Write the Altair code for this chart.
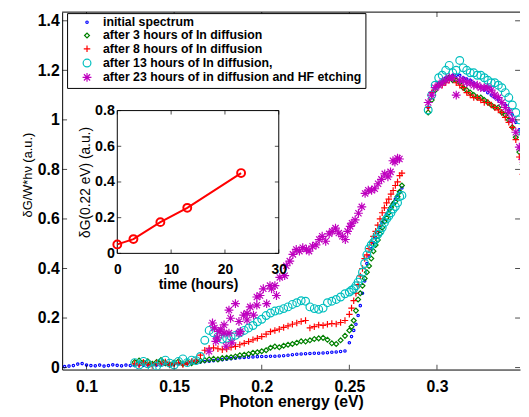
import altair as alt
import pandas as pd

FONT = "Liberation Sans"

SERIES = [
    "initial spectrum",
    "after 3 hours of In diffusion",
    "after 8 hours of In diffusion",
    "after 13 hours of In diffusion,",
    "after 23 hours of in diffusion and HF etching",
]
COLORS = ["#0000FF", "#008000", "#FF0000", "#00BFBF", "#BF00BF"]
PLUS = "M-1,0L1,0M0,-1L0,1"
STAR = "M-1,0L1,0M0,-1L0,1M-0.7,-0.7L0.7,0.7M-0.7,0.7L0.7,-0.7"
SHAPES = ["circle", "diamond", PLUS, "circle", STAR]
SIZES = [6, 81, 64, 110, 64]

# photon energies (eV)
X_PRE = [0.0875, 0.0900, 0.0925, 0.0950, 0.0975, 0.1000, 0.1025, 0.1050,
         0.1075, 0.1100, 0.1125, 0.1150, 0.1175, 0.1200, 0.1225, 0.1250]
X_LOW = [0.1275, 0.1300, 0.1325, 0.1350, 0.1375, 0.1400, 0.1425, 0.1450, 0.1475, 0.1500,
         0.1525, 0.1550, 0.1575, 0.1600, 0.1625, 0.1650, 0.1675, 0.1700, 0.1725, 0.1750,
         0.1775, 0.1800, 0.1825, 0.1850, 0.1875, 0.1900, 0.1925, 0.1950, 0.1975, 0.2000,
         0.2025, 0.2050, 0.2075, 0.2100, 0.2125, 0.2150, 0.2175, 0.2200, 0.2225, 0.2250,
         0.2275, 0.2300, 0.2325, 0.2350, 0.2375, 0.2400, 0.2425, 0.2450, 0.2475]
X_RISE = [0.25000, 0.25125, 0.25250, 0.25375, 0.25500, 0.25625, 0.25750, 0.25875,
          0.26000, 0.26125, 0.26250, 0.26375, 0.26500, 0.26625, 0.26750, 0.26875,
          0.27000, 0.27125, 0.27250, 0.27375, 0.27500, 0.27625, 0.27750, 0.27875, 0.28000]
X_PEAK = [0.295, 0.297, 0.299, 0.301, 0.303, 0.305, 0.307, 0.309, 0.311, 0.313,
          0.315, 0.317, 0.319, 0.321, 0.323, 0.325, 0.327, 0.329, 0.331, 0.333,
          0.335, 0.337, 0.339, 0.341, 0.343, 0.345, 0.347, 0.349]

# initial spectrum
BLUE_PRE = [0.004, 0.006, 0.008, 0.014, 0.016, 0.010, 0.008, 0.007,
            0.010, 0.006, 0.008, 0.011, 0.009, 0.007, 0.010, 0.008]
BLUE_LOW = [0.008, 0.010, 0.009, 0.011, 0.012, 0.010, 0.012, 0.013, 0.012, 0.014,
            0.015, 0.014, 0.016, 0.018, 0.020, 0.022, 0.024, 0.026, 0.028, 0.030,
            0.032, 0.034, 0.036, 0.038, 0.040, 0.041, 0.042, 0.043, 0.044, 0.045,
            0.045, 0.046, 0.046, 0.047, 0.048, 0.050, 0.052, 0.054, 0.055, 0.056,
            0.057, 0.058, 0.058, 0.059, 0.060, 0.062, 0.063, 0.065, 0.067]
BLUE_RISE = [0.100, 0.125, 0.150, 0.175, 0.210, 0.250, 0.300, 0.350, 0.420, 0.450,
             0.480, 0.505, 0.525, 0.545, 0.565, 0.585, 0.600, 0.620, 0.635, 0.650,
             0.665, 0.680, 0.695, 0.710, 0.725]
BLUE_PEAK = [1.05, 1.10, 1.13, 1.15, 1.16, 1.17, 1.175, 1.18, 1.18, 1.18,
             1.17, 1.165, 1.16, 1.15, 1.14, 1.13, 1.12, 1.11, 1.10, 1.09,
             1.08, 1.07, 1.06, 1.04, 1.02, 0.99, 0.96, 0.92]

# after 3 hours
GREEN_LOW = [0.022, 0.028, 0.020, 0.025, 0.015, 0.022, 0.030, 0.018, 0.012, 0.020,
             0.025, 0.015, 0.022, 0.018, 0.025, 0.028, 0.030, 0.033, 0.035, 0.033,
             0.038, 0.040, 0.042, 0.045, 0.050, 0.052, 0.055, 0.060, 0.062, 0.066,
             0.070, 0.080, 0.085, 0.082, 0.088, 0.092, 0.095, 0.100, 0.106, 0.105,
             0.110, 0.115, 0.118, 0.120, 0.112, 0.098, 0.095, 0.110, 0.128]
GREEN_RISE = [0.150, 0.165, 0.190, 0.230, 0.275, 0.300, 0.330, 0.360, 0.385, 0.410,
              0.440, 0.470, 0.495, 0.515, 0.540, 0.565, 0.590, 0.605, 0.625, 0.645,
              0.660, 0.670, 0.690, 0.710, 0.735]
GREEN_PEAK = [1.03, 1.08, 1.12, 1.14, 1.15, 1.16, 1.17, 1.16, 1.16, 1.15,
              1.13, 1.12, 1.11, 1.10, 1.09, 1.09, 1.08, 1.07, 1.06, 1.05,
              1.05, 1.03, 1.02, 1.00, 0.97, 0.93, 0.87, 0.82]

# after 8 hours
RED_LOW = [0.015, 0.010, 0.020, 0.012, 0.008, 0.018, 0.015, 0.022, 0.010, 0.015,
           0.020, 0.012, 0.018, 0.025, 0.030, 0.050, 0.070, 0.078, 0.080, 0.076,
           0.072, 0.075, 0.082, 0.085, 0.092, 0.098, 0.105, 0.112, 0.118, 0.125,
           0.135, 0.145, 0.150, 0.155, 0.162, 0.168, 0.175, 0.180, 0.186, 0.190,
           0.160, 0.165, 0.172, 0.170, 0.175, 0.178, 0.176, 0.182, 0.190]
RED_RISE = [0.215, 0.240, 0.270, 0.300, 0.335, 0.370, 0.400, 0.440, 0.455, 0.480,
            0.505, 0.530, 0.550, 0.575, 0.600, 0.625, 0.645, 0.665, 0.680, 0.700,
            0.715, 0.735, 0.750, 0.775, 0.785]
RED_PEAK = [1.05, 1.11, 1.13, 1.14, 1.14, 1.15, 1.16, 1.17, 1.15, 1.14,
            1.13, 1.11, 1.10, 1.09, 1.09, 1.08, 1.07, 1.07, 1.06, 1.05,
            1.04, 1.03, 1.01, 0.99, 0.97, 0.92, 0.85, 0.78]

# after 13 hours
CYAN_LOW = [0.020, 0.010, 0.025, 0.015, -0.005, 0.005, 0.020, 0.030, 0.018, 0.010,
            0.025, 0.035, 0.020, 0.030, 0.028, 0.045, 0.110, 0.150, 0.140, 0.125,
            0.115, 0.118, 0.125, 0.130, 0.140, 0.150, 0.160, 0.170, 0.185, 0.195,
            0.210, 0.220, 0.228, 0.232, 0.238, 0.245, 0.255, 0.262, 0.270, 0.268,
            0.245, 0.238, 0.235, 0.240, 0.262, 0.268, 0.275, 0.285, 0.298]
CYAN_RISE = [0.305, 0.312, 0.318, 0.330, 0.345, 0.360, 0.385, 0.420, 0.455, 0.480,
             0.495, 0.505, 0.520, 0.538, 0.550, 0.565, 0.585, 0.600, 0.612, 0.625,
             0.640, 0.650, 0.665, 0.690, 0.695]
CYAN_PEAK = [1.04, 1.10, 1.14, 1.17, 1.18, 1.20, 1.22, 1.19, 1.20, 1.24,
             1.21, 1.20, 1.19, 1.19, 1.18, 1.18, 1.17, 1.16, 1.15, 1.15,
             1.14, 1.13, 1.11, 1.09, 1.06, 1.03, 1.00, 0.95]

# after 23 hours + HF etching
MAG_X = [0.1699, 0.1719, 0.1730, 0.1738, 0.1747, 0.1757, 0.1766, 0.1785, 0.1785, 0.1796,
         0.1813, 0.1813, 0.1822, 0.1830, 0.1850, 0.1870, 0.1870, 0.1878, 0.1897, 0.1916,
         0.1916, 0.1934, 0.1953, 0.1972, 0.1972, 0.1990, 0.2009, 0.2028, 0.2047, 0.2056,
         0.2075, 0.2084, 0.2103, 0.2131, 0.2140, 0.2160, 0.2178, 0.2197, 0.2215, 0.2234,
         0.2255, 0.2270, 0.2290, 0.2310, 0.2328, 0.2345, 0.2365, 0.2385, 0.2402, 0.2421,
         0.2440, 0.2460, 0.2477, 0.2490, 0.2505, 0.2515, 0.2533, 0.2552, 0.2571, 0.2590,
         0.2608, 0.2627, 0.2645, 0.2664, 0.2683, 0.2702, 0.2720, 0.2735, 0.2749, 0.2760,
         0.2775, 0.2786]
MAG_Y = [0.066, 0.180, 0.160, 0.106, 0.120, 0.146, 0.152, 0.139, 0.172, 0.086,
         0.232, 0.139, 0.199, 0.100, 0.258, 0.186, 0.139, 0.146, 0.212, 0.192,
         0.219, 0.245, 0.212, 0.252, 0.285, 0.291, 0.318, 0.258, 0.331, 0.318,
         0.331, 0.291, 0.364, 0.371, 0.411, 0.430, 0.457, 0.477, 0.470, 0.484,
         0.478, 0.470, 0.490, 0.495, 0.517, 0.530, 0.510, 0.540, 0.550, 0.563,
         0.543, 0.530, 0.517, 0.550, 0.570, 0.583, 0.596, 0.623, 0.649, 0.703,
         0.716, 0.716, 0.722, 0.742, 0.760, 0.782, 0.770, 0.790, 0.835, 0.830,
         0.845, 0.842]
MAG_PEAK = [1.07, 1.10, 1.13, 1.14, 1.15, 1.16, 1.17, 1.17, 1.10, 1.16,
            1.16, 1.15, 1.15, 1.14, 1.14, 1.13, 1.13, 1.13, 1.12, 1.10,
            1.09, 1.07, 1.05, 1.03, 1.00, 0.95, 0.89, 0.84]

# inset
INSET_T = [0, 3, 8, 13, 23]
INSET_G = [0.05, 0.08, 0.175, 0.255, 0.45]

X_DOMAIN = [0.0861, 0.3474]
Y_DOMAIN = [-0.008, 1.435]
X_TICKS = [0.1, 0.15, 0.2, 0.25, 0.3]
Y_TICKS = [0, 0.2, 0.4, 0.6, 0.8, 1.0, 1.2, 1.4]
INSET_X_DOMAIN = [0, 30]
INSET_Y_DOMAIN = [0, 0.8]
INSET_X_TICKS = [0, 10, 20, 30]
INSET_Y_TICKS = [0, 0.2, 0.4, 0.6, 0.8]

W, H = 465, 363
INSET_X_RANGE = [56, 220]
INSET_Y_RANGE = [245, 100]

rows = []


def add(name, xs, ys):
    assert len(xs) == len(ys), name
    for x, y in zip(xs, ys):
        rows.append({"series": name, "E": x, "G": y})


add(SERIES[0], X_PRE + X_LOW + X_RISE + X_PEAK, BLUE_PRE + BLUE_LOW + BLUE_RISE + BLUE_PEAK)
add(SERIES[1], X_LOW + X_RISE + X_PEAK, GREEN_LOW + GREEN_RISE + GREEN_PEAK)
add(SERIES[2], X_LOW + X_RISE + X_PEAK, RED_LOW + RED_RISE + RED_PEAK)
add(SERIES[3], X_LOW + X_RISE + X_PEAK, CYAN_LOW + CYAN_RISE + CYAN_PEAK)
add(SERIES[4], MAG_X + X_PEAK, MAG_Y + MAG_PEAK)
df = pd.DataFrame(rows)

# ---------------- main panel ----------------
xs = alt.Scale(domain=X_DOMAIN, nice=False, zero=False)
ys = alt.Scale(domain=Y_DOMAIN, nice=False, zero=False)
XT = "Photon energy (eV)"
YT = "δG/W*hν (a.u.)"
xax = alt.Axis(orient="bottom", values=X_TICKS, format=".2~f", grid=False, ticks=False,
               labelFont=FONT, labelFontSize=16, labelFontWeight="bold", labelColor="black",
               labelPadding=9, labelFlush=False, domainColor="black", domainWidth=1,
               titleFont=FONT, titleFontSize=16, titleFontWeight="bold", titleColor="black",
               titlePadding=0)
yax = alt.Axis(orient="left", values=Y_TICKS, format=".1~f", grid=False, ticks=False,
               labelFont=FONT, labelFontSize=16, labelFontWeight="bold", labelColor="black",
               labelPadding=3, labelFlush=False, domainColor="black", domainWidth=1,
               titleFont=FONT, titleFontSize=13, titleFontWeight="normal", titleColor="black",
               titleX=-35, titleY=165, titleBaseline="middle")


def mx(f):
    return alt.X(f, type="quantitative", scale=xs, axis=xax, title=XT)


def my(f):
    return alt.Y(f, type="quantitative", scale=ys, axis=yax, title=YT)


points = alt.Chart(df).mark_point(filled=False, strokeWidth=1.2, opacity=1, clip=True).encode(
    x=mx("E"),
    y=my("G"),
    color=alt.Color("series:N", scale=alt.Scale(domain=SERIES, range=COLORS), title=None),
    shape=alt.Shape("series:N", scale=alt.Scale(domain=SERIES, range=SHAPES), title=None),
    size=alt.Size("series:N", scale=alt.Scale(domain=SERIES, range=SIZES), title=None),
)

tick_b = alt.Chart(pd.DataFrame({"v": X_TICKS, "edge": [Y_DOMAIN[0]] * len(X_TICKS)})).mark_tick(
    orient="vertical", size=5, thickness=1, yOffset=-2.5, color="black").encode(x=mx("v"), y=my("edge"))
tick_t = alt.Chart(pd.DataFrame({"v": X_TICKS, "edge": [Y_DOMAIN[1]] * len(X_TICKS)})).mark_tick(
    orient="vertical", size=5, thickness=1, yOffset=2.5, color="black").encode(x=mx("v"), y=my("edge"))
tick_l = alt.Chart(pd.DataFrame({"v": Y_TICKS, "edge": [X_DOMAIN[0]] * len(Y_TICKS)})).mark_tick(
    orient="horizontal", size=5, thickness=1, xOffset=2.5, color="black").encode(x=mx("edge"), y=my("v"))
tick_r = alt.Chart(pd.DataFrame({"v": Y_TICKS, "edge": [X_DOMAIN[1]] * len(Y_TICKS)})).mark_tick(
    orient="horizontal", size=5, thickness=1, xOffset=-2.5, color="black").encode(x=mx("edge"), y=my("v"))
top_border = alt.Chart(pd.DataFrame({"a": [X_DOMAIN[0]], "b": [X_DOMAIN[1]], "c": [Y_DOMAIN[1]]})).mark_rule(
    color="black", strokeWidth=1).encode(x=mx("a"), x2="b", y=my("c"))

main = alt.layer(points, top_border, tick_b, tick_t, tick_l, tick_r)

# ---------------- inset ----------------
ixs = alt.Scale(domain=INSET_X_DOMAIN, range=INSET_X_RANGE, nice=False, zero=False)
iys = alt.Scale(domain=INSET_Y_DOMAIN, range=INSET_Y_RANGE, nice=False, zero=False)
IXT = "time (hours)"
IYT = "δG(0.22 eV) (a.u.)"
ixax = alt.Axis(orient="bottom", offset=-(H - INSET_Y_RANGE[0]), values=INSET_X_TICKS, format="d",
                grid=False, ticks=False, domain=False, zindex=1,
                labelFont=FONT, labelFontSize=14, labelFontWeight="bold", labelColor="black",
                labelPadding=9, labelFlush=False,
                titleFont=FONT, titleFontSize=14, titleFontWeight="bold", titleColor="black",
                titlePadding=2)
iyax = alt.Axis(orient="left", offset=-INSET_X_RANGE[0], values=INSET_Y_TICKS, format=".1~f",
                grid=False, ticks=False, domain=False, zindex=1,
                labelFont=FONT, labelFontSize=14.5, labelFontWeight="bold", labelColor="black",
                labelPadding=3, labelFlush=False,
                titleFont=FONT, titleFontSize=14, titleFontWeight="normal", titleColor="black",
                titlePadding=2)


def ix(f):
    return alt.X(f, type="quantitative", scale=ixs, axis=ixax, title=IXT)


def iy(f):
    return alt.Y(f, type="quantitative", scale=iys, axis=iyax, title=IYT)


box = alt.Chart(pd.DataFrame({"x0": [INSET_X_DOMAIN[0]], "x1": [INSET_X_DOMAIN[1]],
                              "y0": [INSET_Y_DOMAIN[0]], "y1": [INSET_Y_DOMAIN[1]]})).mark_rect(
    fill="white", stroke="black", strokeWidth=1).encode(x=ix("x0"), x2="x1", y=iy("y0"), y2="y1")

inset_df = pd.DataFrame({"t": INSET_T, "g": INSET_G})
iline = alt.Chart(inset_df).mark_line(color="#FF0000", strokeWidth=2).encode(x=ix("t"), y=iy("g"))
ipts = alt.Chart(inset_df).mark_point(shape="circle", filled=False, color="#FF0000", size=64,
                                      strokeWidth=2, opacity=1).encode(x=ix("t"), y=iy("g"))

itb = alt.Chart(pd.DataFrame({"v": INSET_X_TICKS, "edge": [INSET_Y_DOMAIN[0]] * 4})).mark_tick(
    orient="vertical", size=4, thickness=1, yOffset=-2, color="black").encode(x=ix("v"), y=iy("edge"))
itt = alt.Chart(pd.DataFrame({"v": INSET_X_TICKS, "edge": [INSET_Y_DOMAIN[1]] * 4})).mark_tick(
    orient="vertical", size=4, thickness=1, yOffset=2, color="black").encode(x=ix("v"), y=iy("edge"))
itl = alt.Chart(pd.DataFrame({"v": INSET_Y_TICKS, "edge": [INSET_X_DOMAIN[0]] * 5})).mark_tick(
    orient="horizontal", size=4, thickness=1, xOffset=2, color="black").encode(x=ix("edge"), y=iy("v"))
itr = alt.Chart(pd.DataFrame({"v": INSET_Y_TICKS, "edge": [INSET_X_DOMAIN[1]] * 5})).mark_tick(
    orient="horizontal", size=4, thickness=1, xOffset=-2, color="black").encode(x=ix("edge"), y=iy("v"))

inset = alt.layer(box, iline, ipts, itb, itt, itl, itr)

chart = alt.layer(main, inset).resolve_scale(x="independent", y="independent").properties(
    width=W, height=H,
    autosize=alt.AutoSizeParams(type="none"),
    padding={"left": 55, "top": 1, "right": 1, "bottom": 45},
).configure(font=FONT).configure_view(strokeWidth=0).configure_legend(
    orient="none", legendX=5, legendY=1,
    fillColor="white", strokeColor="black", padding=3, rowPadding=0.5,
    labelFont=FONT, labelFontSize=12.5, labelFontWeight="bold", labelColor="black",
    labelLimit=400, symbolStrokeWidth=1.2, symbolOffset=11, labelOffset=10,
)

chart.save("out.html", embed_options={"renderer": "svg", "actions": False})
